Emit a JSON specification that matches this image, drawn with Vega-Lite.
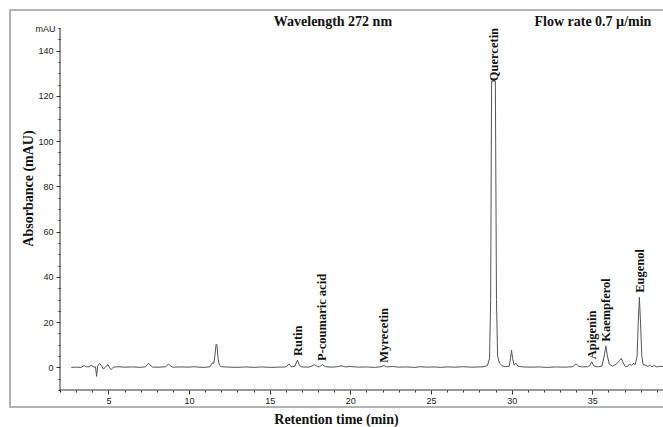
{
  "$schema": "https://vega.github.io/schema/vega-lite/v6.json",
  "width": 656,
  "height": 397,
  "autosize": {"type": "none"},
  "padding": {"left": 10, "top": 10, "right": -3, "bottom": 20},
  "background": "white",
  "config": {
    "view": {"stroke": "#9a9a9a", "strokeWidth": 1.5},
    "axis": {"grid": false}
  },
  "datasets": {
    "trace": [
      {"t": 2.7, "a": 0}, {"t": 3.0, "a": 0.1}, {"t": 3.3, "a": 0.0}, {"t": 3.5, "a": 0.8}, {"t": 3.65, "a": 0.2},
      {"t": 3.8, "a": 0.3}, {"t": 3.95, "a": 1.0}, {"t": 4.05, "a": 0.2}, {"t": 4.2, "a": 0.2}, {"t": 4.27, "a": -4.0},
      {"t": 4.33, "a": 0.5}, {"t": 4.45, "a": 1.7}, {"t": 4.57, "a": 0.8}, {"t": 4.7, "a": -0.8}, {"t": 4.82, "a": 0.3},
      {"t": 4.98, "a": 1.2}, {"t": 5.08, "a": -0.2}, {"t": 5.17, "a": -1.0}, {"t": 5.3, "a": 0.1}, {"t": 5.6, "a": 0.3},
      {"t": 6.0, "a": 0.1}, {"t": 6.5, "a": 0.2}, {"t": 7.0, "a": 0.0}, {"t": 7.3, "a": 0.3}, {"t": 7.5, "a": 1.8},
      {"t": 7.62, "a": 0.8}, {"t": 7.75, "a": 0.1}, {"t": 8.2, "a": 0.1}, {"t": 8.55, "a": 0.3}, {"t": 8.73, "a": 1.5},
      {"t": 8.87, "a": 0.5}, {"t": 9.0, "a": 0.1}, {"t": 9.5, "a": 0.2}, {"t": 10.0, "a": 0.1}, {"t": 10.3, "a": 0.3},
      {"t": 10.6, "a": 0.1}, {"t": 11.0, "a": 0.0}, {"t": 11.3, "a": 0.3}, {"t": 11.45, "a": 2.0}, {"t": 11.53, "a": 1.8},
      {"t": 11.6, "a": 5.0}, {"t": 11.68, "a": 10.3}, {"t": 11.73, "a": 10.0}, {"t": 11.8, "a": 4.0}, {"t": 11.88, "a": 1.0},
      {"t": 12.0, "a": 0.3}, {"t": 12.5, "a": 0.1}, {"t": 13.0, "a": 0.0}, {"t": 13.5, "a": 0.2}, {"t": 14.0, "a": 0.0},
      {"t": 14.5, "a": 0.2}, {"t": 15.0, "a": 0.0}, {"t": 15.5, "a": 0.1}, {"t": 16.0, "a": 0.2}, {"t": 16.2, "a": 1.5},
      {"t": 16.35, "a": 0.2}, {"t": 16.55, "a": 0.5}, {"t": 16.72, "a": 3.2}, {"t": 16.85, "a": 0.8}, {"t": 17.0, "a": 0.2},
      {"t": 17.4, "a": 0.1}, {"t": 17.62, "a": 0.6}, {"t": 17.77, "a": 1.2}, {"t": 17.95, "a": 0.4}, {"t": 18.1, "a": 0.3},
      {"t": 18.27, "a": 1.3}, {"t": 18.45, "a": 0.3}, {"t": 18.8, "a": 0.1}, {"t": 19.2, "a": 0.3}, {"t": 19.45, "a": 0.7},
      {"t": 19.7, "a": 0.2}, {"t": 20.0, "a": 0.4}, {"t": 20.5, "a": 0.1}, {"t": 21.0, "a": 0.2}, {"t": 21.5, "a": 0.0},
      {"t": 21.9, "a": 0.3}, {"t": 22.1, "a": 0.8}, {"t": 22.25, "a": 0.2}, {"t": 22.6, "a": 0.4}, {"t": 23.0, "a": 0.1},
      {"t": 23.5, "a": 0.2}, {"t": 24.0, "a": 0.0}, {"t": 24.3, "a": 0.3}, {"t": 24.8, "a": 0.1}, {"t": 25.2, "a": 0.2},
      {"t": 25.6, "a": 0.0}, {"t": 26.0, "a": 0.2}, {"t": 26.5, "a": 0.1}, {"t": 27.0, "a": 0.3}, {"t": 27.5, "a": 0.1},
      {"t": 28.0, "a": 0.2}, {"t": 28.3, "a": 0.3}, {"t": 28.5, "a": 0.8}, {"t": 28.63, "a": 4.0}, {"t": 28.7, "a": 30},
      {"t": 28.74, "a": 100}, {"t": 28.76, "a": 126.5}, {"t": 28.99, "a": 126.5}, {"t": 29.01, "a": 100}, {"t": 29.06, "a": 30},
      {"t": 29.13, "a": 5.0}, {"t": 29.25, "a": 1.8}, {"t": 29.4, "a": 0.8}, {"t": 29.6, "a": 0.3}, {"t": 29.85, "a": 0.5},
      {"t": 29.93, "a": 4.0}, {"t": 29.99, "a": 7.6}, {"t": 30.06, "a": 4.0}, {"t": 30.15, "a": 1.0}, {"t": 30.27, "a": 1.8},
      {"t": 30.4, "a": 0.5}, {"t": 30.7, "a": 0.2}, {"t": 31.2, "a": 0.1}, {"t": 31.7, "a": 0.2}, {"t": 32.2, "a": 0.0},
      {"t": 32.8, "a": 0.2}, {"t": 33.3, "a": 0.1}, {"t": 33.8, "a": 0.3}, {"t": 33.99, "a": 1.6}, {"t": 34.15, "a": 0.5},
      {"t": 34.4, "a": 0.2}, {"t": 34.7, "a": 0.3}, {"t": 34.85, "a": 0.8}, {"t": 34.96, "a": 2.5}, {"t": 35.1, "a": 0.6},
      {"t": 35.35, "a": 0.2}, {"t": 35.6, "a": 0.6}, {"t": 35.74, "a": 5.0}, {"t": 35.84, "a": 9.5}, {"t": 35.94, "a": 5.0},
      {"t": 36.05, "a": 1.5}, {"t": 36.25, "a": 0.5}, {"t": 36.5, "a": 1.5}, {"t": 36.68, "a": 3.0}, {"t": 36.8, "a": 4.0},
      {"t": 36.92, "a": 2.0}, {"t": 37.05, "a": 0.3}, {"t": 37.2, "a": 0.5}, {"t": 37.32, "a": 1.5}, {"t": 37.42, "a": 0.8},
      {"t": 37.56, "a": 1.8}, {"t": 37.66, "a": 1.2}, {"t": 37.78, "a": 5.0}, {"t": 37.85, "a": 20}, {"t": 37.92, "a": 31},
      {"t": 37.99, "a": 20}, {"t": 38.07, "a": 5.0}, {"t": 38.15, "a": 1.2}, {"t": 38.3, "a": 1.0}, {"t": 38.45, "a": 0.4},
      {"t": 38.55, "a": 1.0}, {"t": 38.7, "a": 0.3}, {"t": 38.85, "a": 0.8}, {"t": 39.0, "a": 0.2}, {"t": 39.2, "a": 0.5},
      {"t": 39.4, "a": 0.3}, {"t": 39.6, "a": 0.1}
    ],
    "peaks": [
      {"name": "Rutin", "t": 16.74, "a": 5.0},
      {"name": "P-coumaric acid", "t": 18.22, "a": 2.8},
      {"name": "Myrecetin", "t": 22.1, "a": 2.1},
      {"name": "Quercetin", "t": 28.88, "a": 126.5},
      {"name": "Apigenin", "t": 34.96, "a": 3.6},
      {"name": "Kaempferol", "t": 35.85, "a": 11.3},
      {"name": "Eugenol", "t": 37.93, "a": 33}
    ],
    "axislines": [
      {"t": 2, "t2": 39.6, "a": -10, "a2": -10},
      {"t": 2, "t2": 2, "a": -10, "a2": 150}
    ],
    "headers": [
      {"text": "Wavelength 272 nm", "t": 18.92, "a": 152.7},
      {"text": "Flow rate 0.7 µ/min", "t": 35.04, "a": 152.7}
    ]
  },
  "encoding": {
    "x": {
      "field": "t", "type": "quantitative",
      "scale": {"domain": [-1.1, 39.57], "nice": false, "zero": false},
      "axis": {
        "title": "Retention time (min)",
        "values": [2,3,4,5,6,7,8,9,10,11,12,13,14,15,16,17,18,19,20,21,22,23,24,25,26,27,28,29,30,31,32,33,34,35,36,37,38,39],
        "offset": -17,
        "domain": false,
        "grid": false,
        "tickColor": "#333",
        "tickSize": {"condition": {"test": "datum.value % 5 === 0", "value": 4}, "value": 2},
        "labelExpr": "datum.value % 5 === 0 ? datum.label : ''",
        "labelFont": "Liberation Sans",
        "labelFontSize": 9,
        "labelColor": "#222",
        "labelPadding": 2,
        "labelOverlap": false,
        "labelFlush": false,
        "titleFont": "Liberation Serif",
        "titleFontSize": 14,
        "titleFontWeight": "bold",
        "titleColor": "#111",
        "titleX": 326,
        "titleY": 33,
        "titleAlign": "center",
        "titleBaseline": "alphabetic"
      }
    },
    "y": {
      "field": "a", "type": "quantitative",
      "scale": {"domain": [-17.51, 157.96], "nice": false, "zero": false},
      "axis": {
        "title": "Absorbance (mAU)",
        "values": [-10,-5,0,5,10,15,20,25,30,35,40,45,50,55,60,65,70,75,80,85,90,95,100,105,110,115,120,125,130,135,140,145,150],
        "offset": -50,
        "domain": false,
        "grid": false,
        "tickColor": "#333",
        "tickSize": {"condition": {"test": "datum.value % 20 === 0", "value": 4}, "value": 2},
        "labelExpr": "datum.value === 150 ? 'mAU' : ((datum.value % 20 === 0 && datum.value >= 0) ? datum.label : '')",
        "labelFont": "Liberation Sans",
        "labelFontSize": 9,
        "labelColor": "#222",
        "labelPadding": 3,
        "labelOverlap": false,
        "labelFlush": false,
        "titleFont": "Liberation Serif",
        "titleFontSize": 14,
        "titleFontWeight": "bold",
        "titleColor": "#111",
        "titleX": -32,
        "titleY": 178,
        "titleAngle": -90,
        "titleAlign": "center",
        "titleBaseline": "middle"
      }
    }
  },
  "layer": [
    {
      "data": {"name": "axislines"},
      "mark": {"type": "rule", "color": "#333", "strokeWidth": 1},
      "encoding": {
        "x2": {"field": "t2"},
        "y2": {"field": "a2"}
      }
    },
    {
      "data": {"name": "trace"},
      "mark": {"type": "line", "color": "#555", "strokeWidth": 1}
    },
    {
      "data": {"name": "peaks"},
      "mark": {"type": "text", "angle": -90, "align": "left", "baseline": "middle", "font": "Liberation Serif", "fontSize": 12.5, "fontWeight": "bold", "color": "#111"},
      "encoding": {
        "text": {"field": "name"}
      }
    },
    {
      "data": {"name": "headers"},
      "mark": {"type": "text", "align": "center", "baseline": "middle", "font": "Liberation Serif", "fontSize": 14, "fontWeight": "bold", "color": "#111"},
      "encoding": {
        "text": {"field": "text"}
      }
    }
  ]
}
